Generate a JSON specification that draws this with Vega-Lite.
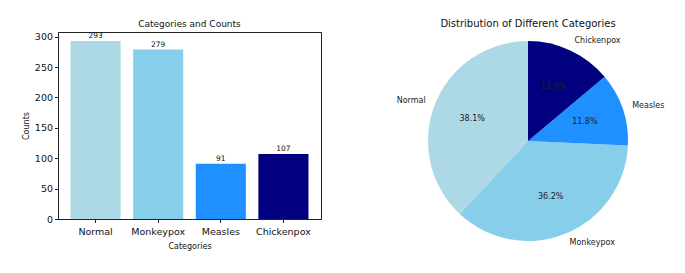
{
  "$schema": "https://vega.github.io/schema/vega-lite/v6.json",
  "padding": {"left": 21, "top": 19, "right": 0, "bottom": 0},
  "background": "white",
  "config": {
    "font": "DejaVu Sans",
    "view": {"stroke": null},
    "concat": {"spacing": 107},
    "title": {"fontSize": 9, "fontWeight": "normal", "color": "#111", "offset": 3}
  },
  "bounds": "flush",
  "datasets": {
    "cats": [
      {"category": "Normal", "count": 293, "pct": "38.1%"},
      {"category": "Monkeypox", "count": 279, "pct": "36.2%"},
      {"category": "Measles", "count": 91, "pct": "11.8%"},
      {"category": "Chickenpox", "count": 107, "pct": "13.9%"}
    ]
  },
  "hconcat": [
    {
      "width": 263,
      "height": 187,
      "view": {"stroke": "#222", "strokeWidth": 1},
      "title": {"text": "Categories and Counts"},
      "data": {"name": "cats"},
      "encoding": {
        "x": {
          "field": "category", "type": "nominal",
          "sort": ["Normal", "Monkeypox", "Measles", "Chickenpox"],
          "scale": {"paddingInner": 0.2, "paddingOuter": 0.2},
          "axis": {"title": "Categories", "labelAngle": 0, "labelFontSize": 9.5, "labelColor": "#111", "titleFontSize": 8, "titleFontWeight": "normal", "titleColor": "#111", "tickColor": "#222", "tickSize": 3.5, "domainColor": "#222", "labelPadding": 3.5, "titlePadding": 6.5}
        },
        "y": {
          "field": "count", "type": "quantitative",
          "scale": {"domain": [0, 307.65], "nice": false},
          "axis": {"title": "Counts", "values": [0, 50, 100, 150, 200, 250, 300], "grid": false, "labelFontSize": 9.5, "labelColor": "#111", "titleFontSize": 8, "titleFontWeight": "normal", "titleColor": "#111", "tickColor": "#222", "tickSize": 3.5, "domainColor": "#222", "labelPadding": 2, "titlePadding": 4}
        }
      },
      "layer": [
        {
          "mark": {"type": "bar"},
          "encoding": {
            "color": {
              "field": "category", "type": "nominal",
              "scale": {"domain": ["Normal", "Monkeypox", "Measles", "Chickenpox"], "range": ["#ADD8E6", "#87CEEB", "#1E90FF", "#000080"]},
              "legend": null
            }
          }
        },
        {
          "mark": {"type": "text", "baseline": "bottom", "dy": -0.5, "fontSize": 7.5, "color": "#111"},
          "encoding": {"text": {"field": "count", "type": "quantitative"}}
        }
      ]
    },
    {
      "width": 200,
      "height": 218,
      "title": {"text": "Distribution of Different Categories", "fontSize": 10},
      "data": {"name": "cats"},
      "encoding": {
        "theta": {"field": "count", "type": "quantitative", "stack": true},
        "order": {"field": "category", "sort": "ascending"}
      },
      "layer": [
        {
          "mark": {"type": "arc", "outerRadius": 100},
          "encoding": {
            "color": {
              "field": "category", "type": "nominal",
              "scale": {"domain": ["Normal", "Monkeypox", "Measles", "Chickenpox"], "range": ["#ADD8E6", "#87CEEB", "#1E90FF", "#000080"]},
              "legend": null
            }
          }
        },
        {
          "mark": {"type": "text", "radius": 60, "fontSize": 8, "color": "#222"},
          "encoding": {"text": {"field": "pct", "type": "nominal"}}
        },
        {
          "mark": {"type": "text", "radius": 110, "align": "left", "baseline": "middle", "fontSize": 8, "color": "#222"},
          "encoding": {"text": {"condition": {"test": "datum.category === 'Normal'", "value": ""}, "field": "category", "type": "nominal"}}
        },
        {
          "mark": {"type": "text", "radius": 110, "align": "right", "baseline": "middle", "fontSize": 8, "color": "#222"},
          "encoding": {"text": {"condition": {"test": "datum.category !== 'Normal'", "value": ""}, "field": "category", "type": "nominal"}}
        }
      ]
    }
  ]
}
